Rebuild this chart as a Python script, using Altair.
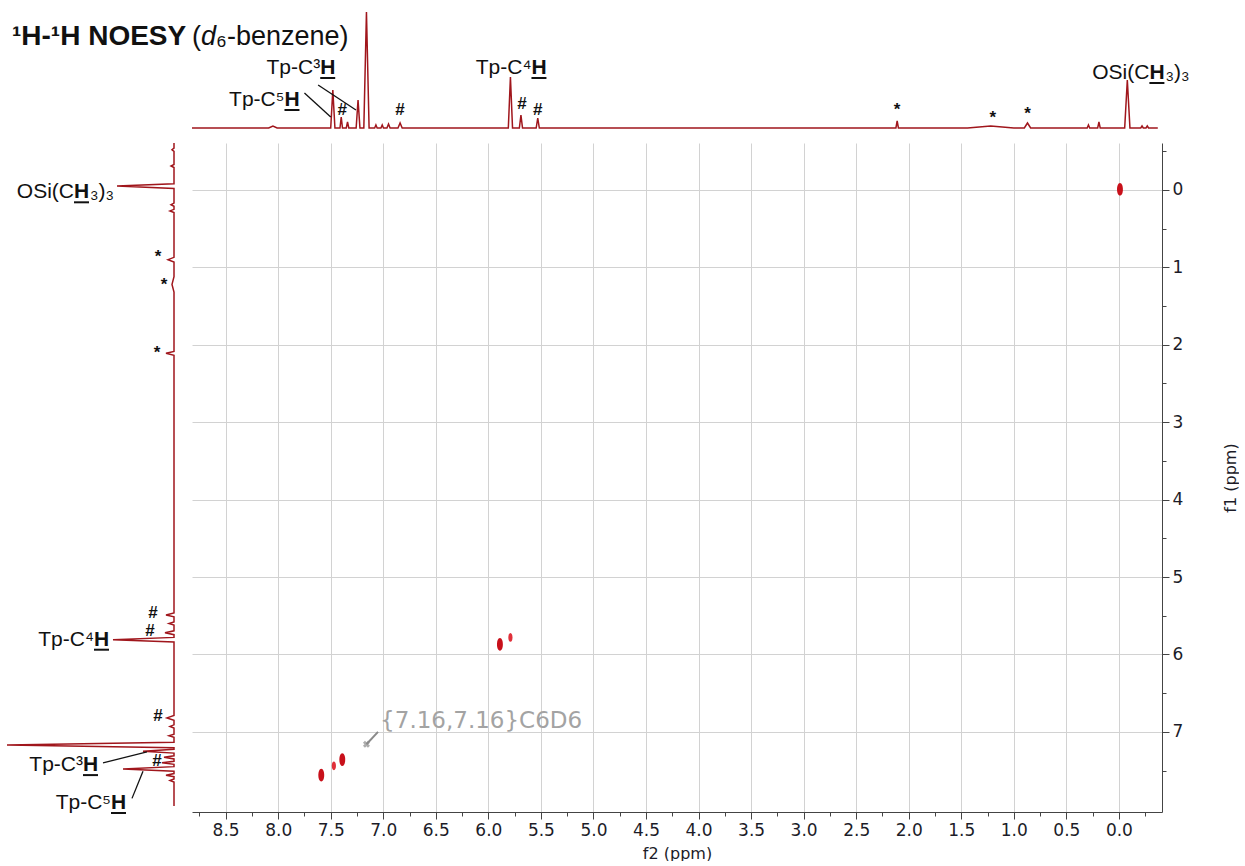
import altair as alt
import pandas as pd

# ---------------- spectra data ----------------
# f2 projection (top trace): peak centre (ppm), height, half-width (ppm)
top_ppm = [8.05, 7.48, 7.40, 7.34, 7.24, 7.16, 7.07, 7.01, 6.95, 6.84, 5.79, 5.69, 5.53,
           2.11, 1.22, 0.87, 0.29, 0.19, -0.08, -0.22, -0.27]
top_amp = [2, 38, 11, 6, 28, 116, 3, 3, 4, 5, 51, 13, 10,
           7, 2, 5, 3, 6, 48, 2, 2]
top_hw = [0.04, 0.02, 0.012, 0.012, 0.018, 0.025, 0.012, 0.012, 0.015, 0.02, 0.02, 0.015, 0.015,
          0.012, 0.22, 0.03, 0.012, 0.012, 0.025, 0.012, 0.012]

# f1 projection (left trace)
side_ppm = [-0.52, -0.31, -0.05, 0.19, 0.27, 0.90, 1.22, 2.11, 5.49, 5.60, 5.72, 5.81,
            6.82, 6.93, 7.05, 7.17, 7.25, 7.33, 7.40, 7.48, 7.56, 7.63]
side_amp = [2, 3, 57, 3, 4, 6, 2, 8, 8, 5, 9, 61,
            7, 4, 5, 167, 31, 10, 12, 51, 8, 4]
side_hw = [0.02, 0.02, 0.03, 0.02, 0.02, 0.03, 0.1, 0.025, 0.025, 0.02, 0.025, 0.03,
           0.03, 0.02, 0.02, 0.035, 0.025, 0.02, 0.02, 0.03, 0.02, 0.02]

# NOESY cross / diagonal peaks
xpk_f2 = [7.59, 7.47, 7.39, 5.89, 5.79, -0.01]
xpk_f1 = [7.56, 7.44, 7.36, 5.87, 5.78, -0.01]
xpk_level = ["strong", "weak", "strong", "strong", "weak", "strong"]

# solvent marker
solvent_f2, solvent_f1 = 7.16, 7.16
solvent_text = "{7.16,7.16}C6D6"

# axis ticks
f2_ticks = [8.75, 8.5, 8.25, 8.0, 7.75, 7.5, 7.25, 7.0, 6.75, 6.5, 6.25, 6.0, 5.75, 5.5,
            5.25, 5.0, 4.75, 4.5, 4.25, 4.0, 3.75, 3.5, 3.25, 3.0, 2.75, 2.5, 2.25, 2.0,
            1.75, 1.5, 1.25, 1.0, 0.75, 0.5, 0.25, 0.0, -0.25]
f1_ticks = [-0.5, 0, 0.5, 1, 1.5, 2, 2.5, 3, 3.5, 4, 4.5, 5, 5.5, 6, 6.5, 7, 7.5]

# assignments on the traces
top_lab_ppm = [7.94, 7.60, 5.59, -0.29]
top_lab_amp = [28, 60, 60, 55]
top_lab_pre = ["Tp-C\u2075", "Tp-C\u00b3", "Tp-C\u2074", "OSi(C"]
top_lab_mid = ["H", "H", "H", "H"]
top_lab_post = ["", "", "", "\u2083)\u2083"]

side_lab_ppm = [0.03, 5.81, 7.43, 7.92]
side_lab_amp = [100, 80, 91, 63]
side_lab_pre = ["OSi(C", "Tp-C\u2074", "Tp-C\u00b3", "Tp-C\u2075"]
side_lab_mid = ["H", "H", "H", "H"]
side_lab_post = ["\u2083)\u2083", "", "", ""]

# leader lines (from label to peak)
top_lead_ppm = [7.75, 7.62]
top_lead_amp = [35, 43]
top_lead_ppm2 = [7.50, 7.26]
top_lead_amp2 = [11, 18]

side_lead_ppm = [7.40, 7.86]
side_lead_amp = [71, 42]
side_lead_ppm2 = [7.26, 7.51]
side_lead_amp2 = [27, 31]

# impurity (#) and grease/solvent (*) flags
top_flag_ppm = [7.39, 6.84, 5.68, 5.53, 2.11, 1.20, 0.87]
top_flag_amp = [18, 18, 24, 18, 18, 10, 14]
top_flag_sym = ["#", "#", "#", "#", "*", "*", "*"]

side_flag_ppm = [5.47, 5.70, 6.80, 7.38, 0.87, 1.23, 2.11]
side_flag_amp = [21, 24, 16, 17, 16, 10, 17]
side_flag_sym = ["#", "#", "#", "#", "*", "*", "*"]

title_bold = "\u00b9H-\u00b9H NOESY"

# ---------------- layout / style ----------------
MAIN_W, MAIN_H = 970, 669
SIDE_W, TOP_H = 192, 140
F2_DOMAIN = [8.82, -0.41]
F1_DOMAIN = [-0.607, 8.036]
PPM_PER_PX = (F2_DOMAIN[0] - F2_DOMAIN[1]) / MAIN_W
TOP_F2_DOMAIN = [F2_DOMAIN[0] + SIDE_W * PPM_PER_PX, F2_DOMAIN[1]]
TOP_AMP_DOMAIN = [-12, 128]
SIDE_AMP_DOMAIN = [174, -18]

FONT = "Liberation Sans"
AXIS_FONT = "DejaVu Sans"
INK = "#111111"
AXIS_INK = "#1c1c28"
TRACE = "#a0161c"
LABEL_SIZE = 21
H_W = 15  # advance of a bold H at LABEL_SIZE

f2_top_scale = alt.Scale(domain=TOP_F2_DOMAIN, nice=False, zero=False)
amp_top_scale = alt.Scale(domain=TOP_AMP_DOMAIN, nice=False, zero=False)
f2_scale = alt.Scale(domain=F2_DOMAIN, nice=False, zero=False)
f1_scale = alt.Scale(domain=F1_DOMAIN, nice=False, zero=False, reverse=True)
amp_side_scale = alt.Scale(domain=SIDE_AMP_DOMAIN, nice=False, zero=False)


def trace_frame(pos, amp, hw, start, end):
    peaks = sorted(zip(pos, amp, hw), key=lambda t: t[0], reverse=start > end)
    sign = -1 if start > end else 1
    pts = [(start, 0)]
    for p, a, w in peaks:
        pts += [(p - sign * w, 0), (p, a), (p + sign * w, 0)]
    pts.append((end, 0))
    return pd.DataFrame({"ppm": [p[0] for p in pts], "amp": [p[1] for p in pts],
                         "i": list(range(len(pts)))})


def rich_labels(df, xf, xs, yf, ys):
    base = alt.Chart(df).encode(
        x=alt.X(xf, type="quantitative", scale=xs, axis=None),
        y=alt.Y(yf, type="quantitative", scale=ys, axis=None),
    )
    common = dict(baseline="middle", font=FONT, fontSize=LABEL_SIZE, color=INK)
    return [
        base.mark_text(align="right", **common).encode(text="pre:N"),
        base.mark_text(align="left", fontWeight="bold", **common).encode(text="mid:N"),
        base.mark_text(align="left", dx=H_W + 1, **common).encode(text="post:N"),
        base.mark_rule(color=INK, strokeWidth=2, x2Offset=H_W, yOffset=10, y2Offset=10)
        .encode(x2=alt.X2(xf), y2=alt.Y2(yf)),
    ]


# ---------------- top trace panel ----------------
top_trace = alt.Chart(trace_frame(top_ppm, top_amp, top_hw, 8.82, -0.37)).mark_line(
    color=TRACE, strokeWidth=1.5
).encode(
    x=alt.X("ppm:Q", scale=f2_top_scale, axis=None),
    y=alt.Y("amp:Q", scale=amp_top_scale, axis=None),
    order="i:Q",
)

top_labels = pd.DataFrame({"ppm": top_lab_ppm, "amp": top_lab_amp, "pre": top_lab_pre,
                           "mid": top_lab_mid, "post": top_lab_post})
top_leads = alt.Chart(pd.DataFrame({"a": top_lead_ppm, "b": top_lead_amp,
                                    "a2": top_lead_ppm2, "b2": top_lead_amp2})).mark_rule(
    color=INK, strokeWidth=1.3
).encode(
    x=alt.X("a:Q", scale=f2_top_scale, axis=None), y=alt.Y("b:Q", scale=amp_top_scale, axis=None),
    x2="a2:Q", y2="b2:Q",
)
top_flags = alt.Chart(pd.DataFrame({"ppm": top_flag_ppm, "amp": top_flag_amp,
                                    "s": top_flag_sym})).mark_text(
    font=FONT, fontSize=17, fontWeight="bold", color=INK, baseline="middle"
).encode(
    x=alt.X("ppm:Q", scale=f2_top_scale, axis=None),
    y=alt.Y("amp:Q", scale=amp_top_scale, axis=None), text="s:N",
)

title_df = pd.DataFrame({"ppm": [TOP_F2_DOMAIN[0] - 12 * PPM_PER_PX], "amp": [91]})
title_base = alt.Chart(title_df).encode(
    x=alt.X("ppm:Q", scale=f2_top_scale, axis=None),
    y=alt.Y("amp:Q", scale=amp_top_scale, axis=None),
)
tcommon = dict(align="left", baseline="middle", font=FONT, color=INK)
title_layers = [
    title_base.mark_text(fontWeight="bold", fontSize=28, text=title_bold, **tcommon),
    title_base.mark_text(dx=180, fontSize=27, text="(", **tcommon),
    title_base.mark_text(dx=189, fontSize=27, fontStyle="italic", text="d", **tcommon),
    title_base.mark_text(dx=204, fontSize=27, text="\u2086-benzene)", **tcommon),
]

top_panel = alt.layer(
    top_trace, top_leads, top_flags,
    *rich_labels(top_labels, "ppm", f2_top_scale, "amp", amp_top_scale),
    *title_layers,
).properties(width=SIDE_W + MAIN_W, height=TOP_H)

# ---------------- left trace panel ----------------
side_trace = alt.Chart(trace_frame(side_ppm, side_amp, side_hw, -0.607, 7.96)).mark_line(
    color=TRACE, strokeWidth=1.5
).encode(
    x=alt.X("amp:Q", scale=amp_side_scale, axis=None),
    y=alt.Y("ppm:Q", scale=f1_scale, axis=None),
    order="i:Q",
)
side_labels = pd.DataFrame({"ppm": side_lab_ppm, "amp": side_lab_amp, "pre": side_lab_pre,
                            "mid": side_lab_mid, "post": side_lab_post})
side_leads = alt.Chart(pd.DataFrame({"a": side_lead_amp, "b": side_lead_ppm,
                                     "a2": side_lead_amp2, "b2": side_lead_ppm2})).mark_rule(
    color=INK, strokeWidth=1.3
).encode(
    x=alt.X("a:Q", scale=amp_side_scale, axis=None), y=alt.Y("b:Q", scale=f1_scale, axis=None),
    x2="a2:Q", y2="b2:Q",
)
side_flags = alt.Chart(pd.DataFrame({"ppm": side_flag_ppm, "amp": side_flag_amp,
                                     "s": side_flag_sym})).mark_text(
    font=FONT, fontSize=17, fontWeight="bold", color=INK, baseline="middle"
).encode(
    x=alt.X("amp:Q", scale=amp_side_scale, axis=None),
    y=alt.Y("ppm:Q", scale=f1_scale, axis=None), text="s:N",
)
side_panel = alt.layer(
    side_trace, side_leads, side_flags,
    *rich_labels(side_labels, "amp", amp_side_scale, "ppm", f1_scale),
).properties(width=SIDE_W, height=MAIN_H)

# ---------------- 2D contour panel ----------------
minor_f2 = "datum.value % 0.5 != 0"
minor_f1 = "datum.value % 1 != 0"
x_axis = alt.Axis(
    values=f2_ticks, tickCount=200, title="f2 (ppm)", orient="bottom",
    labelExpr="datum.value % 0.5 == 0 ? format(datum.value, '.1f') : ''",
    grid=True, gridColor="#d2d2d2", gridWidth=1,
    gridOpacity={"condition": {"test": minor_f2, "value": 0}, "value": 1},
    tickSize={"condition": {"test": minor_f2, "value": 4}, "value": 7},
    tickColor="#444", domainColor="#444", labelColor=AXIS_INK,
    labelFont=AXIS_FONT, labelFontSize=17, labelPadding=3, labelOverlap=False, labelFlush=False,
    titleFont=AXIS_FONT, titleFontSize=16, titleFontWeight="normal", titleColor=AXIS_INK,
    titlePadding=7,
)
y_axis = alt.Axis(
    values=f1_ticks, tickCount=200, title="f1 (ppm)", orient="right",
    labelExpr="datum.value % 1 == 0 ? format(datum.value, 'd') : ''",
    grid=True, gridColor="#d2d2d2", gridWidth=1,
    gridOpacity={"condition": {"test": minor_f1, "value": 0}, "value": 1},
    tickSize={"condition": {"test": minor_f1, "value": 4}, "value": 7},
    tickColor="#444", domainColor="#444", labelColor=AXIS_INK,
    labelFont=AXIS_FONT, labelFontSize=17, labelPadding=3, labelOverlap=False, labelFlush=False,
    labelBaseline="middle",
    titleFont=AXIS_FONT, titleFontSize=16, titleFontWeight="normal", titleColor=AXIS_INK,
    titleAngle=270, titleBaseline="top", titlePadding=40,
)

ellipse = "M0,-1C0.62,-1 0.62,1 0,1C-0.62,1 -0.62,-1 0,-1Z"
xpk = alt.Chart(pd.DataFrame({"f2": xpk_f2, "f1": xpk_f1, "level": xpk_level})).mark_point(
    shape=ellipse, filled=True, opacity=1, strokeWidth=0
).encode(
    x=alt.X("f2:Q", scale=f2_scale, axis=x_axis),
    y=alt.Y("f1:Q", scale=f1_scale, axis=y_axis),
    size=alt.Size("level:N", scale=alt.Scale(domain=["strong", "weak"], range=[160, 80]), legend=None),
    color=alt.Color("level:N", scale=alt.Scale(domain=["strong", "weak"], range=["#c8101a", "#e0303a"]),
                    legend=None),
)

solv = pd.DataFrame({"f2": [solvent_f2], "f1": [solvent_f1],
                     "f2b": [solvent_f2 - 0.11], "f1b": [solvent_f1 - 0.16],
                     "f2t": [solvent_f2 - 0.13], "f1t": [solvent_f1 - 0.30],
                     "t": [solvent_text]})
solv_mark = alt.Chart(solv).mark_point(shape="cross", angle=45, size=50, filled=True,
                                       color="#8a8a8a").encode(x="f2:Q", y="f1:Q")
solv_lead = alt.Chart(solv).mark_rule(color="#8a8a8a", strokeWidth=2).encode(
    x="f2:Q", y="f1:Q", x2="f2b:Q", y2="f1b:Q")
solv_text = alt.Chart(solv).mark_text(align="left", baseline="middle", font=AXIS_FONT,
                                      fontSize=23, color="#a3a3a3").encode(
    x="f2t:Q", y="f1t:Q", text="t:N")

main_panel = alt.layer(xpk, solv_lead, solv_mark, solv_text).properties(width=MAIN_W, height=MAIN_H)

chart = alt.vconcat(
    top_panel,
    alt.hconcat(side_panel, main_panel, spacing=0),
    spacing=0,
).properties(
    padding={"left": 0, "top": 0, "right": 0, "bottom": 0},
    background="white",
).configure_view(stroke=None)

chart.save("out.html", embed_options={"renderer": "svg", "actions": False})
